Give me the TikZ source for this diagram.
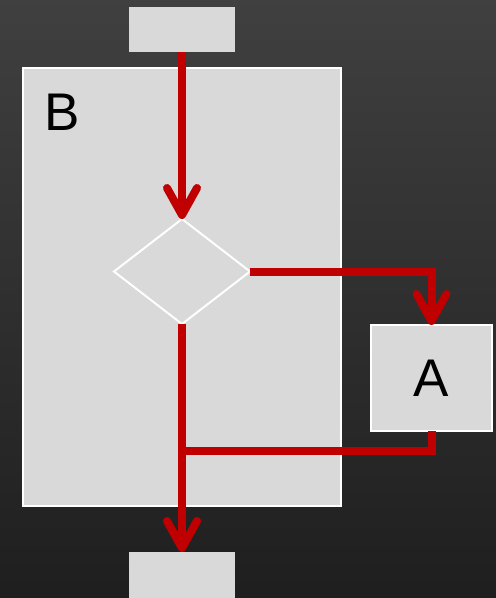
\documentclass[tikz,border=0pt]{standalone}
\usepackage{fontspec}
\setmainfont{Liberation Sans}
\usetikzlibrary{shapes.geometric,arrows.meta}
\definecolor{boxgray}{HTML}{D9D9D9}
\definecolor{flowred}{HTML}{C00000}
\begin{document}
\begin{tikzpicture}[x=1pt,y=-1pt]
		\tikzset{plain box/.style={fill=boxgray,inner sep=0pt,outer sep=0pt}}
		\tikzset{framed box/.style={plain box,draw=white,line width=2pt}}
		\tikzset{flow/.style={draw=flowred,line width=8pt,-{Straight Barb[length=27pt,width=30pt,round]}}}
		\tikzset{flow line/.style={draw=flowred,line width=8pt}}
		\shade[top color=black!75,bottom color=black!88] (0,0) rectangle (496,598);
		\useasboundingbox (0,0) rectangle (496,598);
		\node[plain box,minimum width=106pt,minimum height=45pt] (start) at (182,29.5) {};
		\node[framed box,minimum width=318pt,minimum height=438pt] (blockB) at (182,287) {};
		\node[anchor=base west,font=\fontsize{53}{53}\selectfont] (labelB) at (41,130) {B};
		\node[framed box,shape=diamond,minimum width=136pt,minimum height=105pt] (check) at (182,271.5) {};
		\node[framed box,minimum width=121pt,minimum height=106pt,font=\fontsize{53}{53}\selectfont] (blockA) at (431.5,378) {A};
		\node[plain box,minimum width=106pt,minimum height=50pt] (finish) at (182,577) {};
		\coordinate (merge) at (182,451);
		% connectors
		\draw[flow] (start.south) -- (check.north);
		\draw[flow] (check.east) -| (blockA.north);
		\draw[flow] (check.south) -- (finish.north);
		\draw[flow line] (blockA.south) |- (merge);
\end{tikzpicture}
\end{document}
